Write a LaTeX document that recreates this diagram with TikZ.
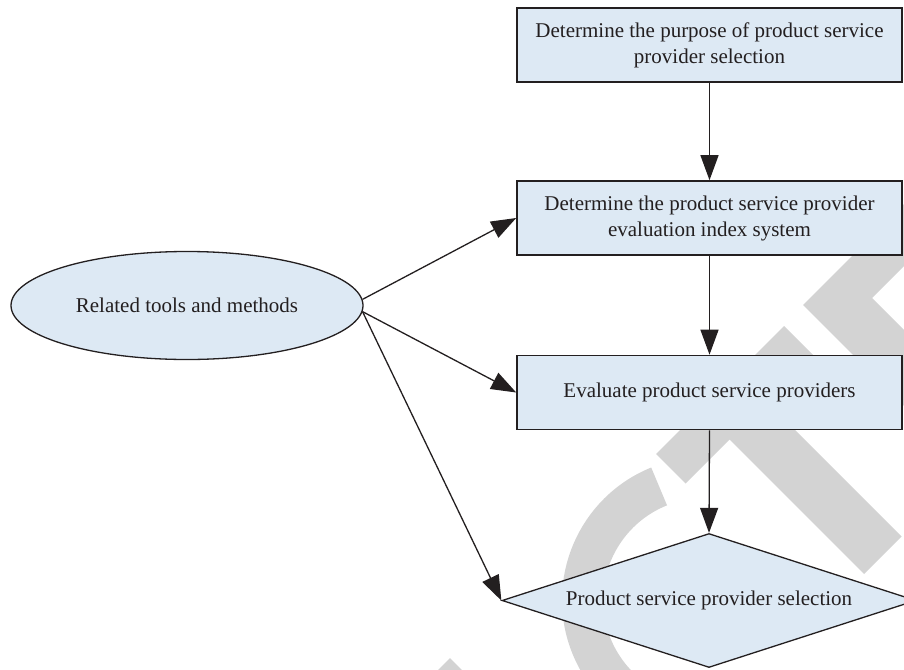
\documentclass[tikz,border=0pt]{standalone}
\usepackage{fontspec}
\setmainfont{Liberation Serif}
\usetikzlibrary{shapes.geometric,arrows.meta}

\definecolor{boxfill}{RGB}{221,233,244}
\definecolor{inkline}{RGB}{35,31,32}
\definecolor{stampgray}{RGB}{211,211,211}

\tikzset{
  labelfont/.style={font=\fontsize{21}{26}\selectfont, text=inkline},
  stepbox/.style={labelfont, draw=inkline, line width=1.6pt, fill=boxfill,
    rectangle, minimum width=385pt, minimum height=74pt, align=center, inner sep=2pt},
  toolsell/.style={labelfont, draw=inkline, line width=1.3pt, fill=boxfill,
    ellipse, minimum width=352pt, minimum height=108pt, inner sep=1pt},
  decision/.style={labelfont, draw=inkline, line width=1.3pt, fill=boxfill,
    diamond, aspect=3.09, minimum width=414pt, minimum height=134pt, inner sep=1pt},
  flow/.style={draw=inkline, line width=1.3pt, -{Triangle[length=25pt,width=18pt]}},
  stamp/.style={fill=stampgray, draw=none}
}

\begin{document}
\begin{tikzpicture}[x=1pt,y=-1pt]
  \useasboundingbox (0,0) rectangle (904,669);
  \clip (0,0) rectangle (904,669);

  % faint stamp lettering behind the chart
  \fill[stamp] (450,658) -- (400,708) -- (500,708) -- cycle;
  \draw[stampgray, line width=41pt] (705,600) ++(248:122.5)
    arc[start angle=248, end angle=60, radius=122.5];
  \fill[stamp] (656,454) -- (784,326) -- (813.5,355.5) -- (767,402)
    -- (901.5,536.5) -- (864,574) -- (729.5,439.5) -- (685.5,483.5) -- cycle;
  \fill[stamp] (803,305) -- (954,154) -- (985,185) -- (872,298)
    -- (1087,513) -- (1049,551) -- cycle;

  % process steps
  \node[stepbox] (purpose) at (709.5,45)
    {Determine the purpose of product service\\provider selection};
  \node[stepbox] (index) at (709.5,218)
    {Determine the product service provider\\evaluation index system};
  \node[stepbox] (evaluate) at (709.5,392.5)
    {Evaluate product service providers};
  \node[decision] (select) at (709,600.5)
    {Product service provider selection};

  % supporting methods
  \node[toolsell] (tools) at (187,305.5) {Related tools and methods};

  % connectors
  \draw[flow] (purpose.south) -- (index.north);
  \draw[flow] (index.south) -- (evaluate.north);
  \draw[flow] (evaluate.south) -- (select.north);
  \draw[flow] (tools.2) -- (index.west);
  \draw[flow] (tools.-2) -- (evaluate.west);
  \draw[flow] (tools.-2) -- (select.west);
\end{tikzpicture}
\end{document}
